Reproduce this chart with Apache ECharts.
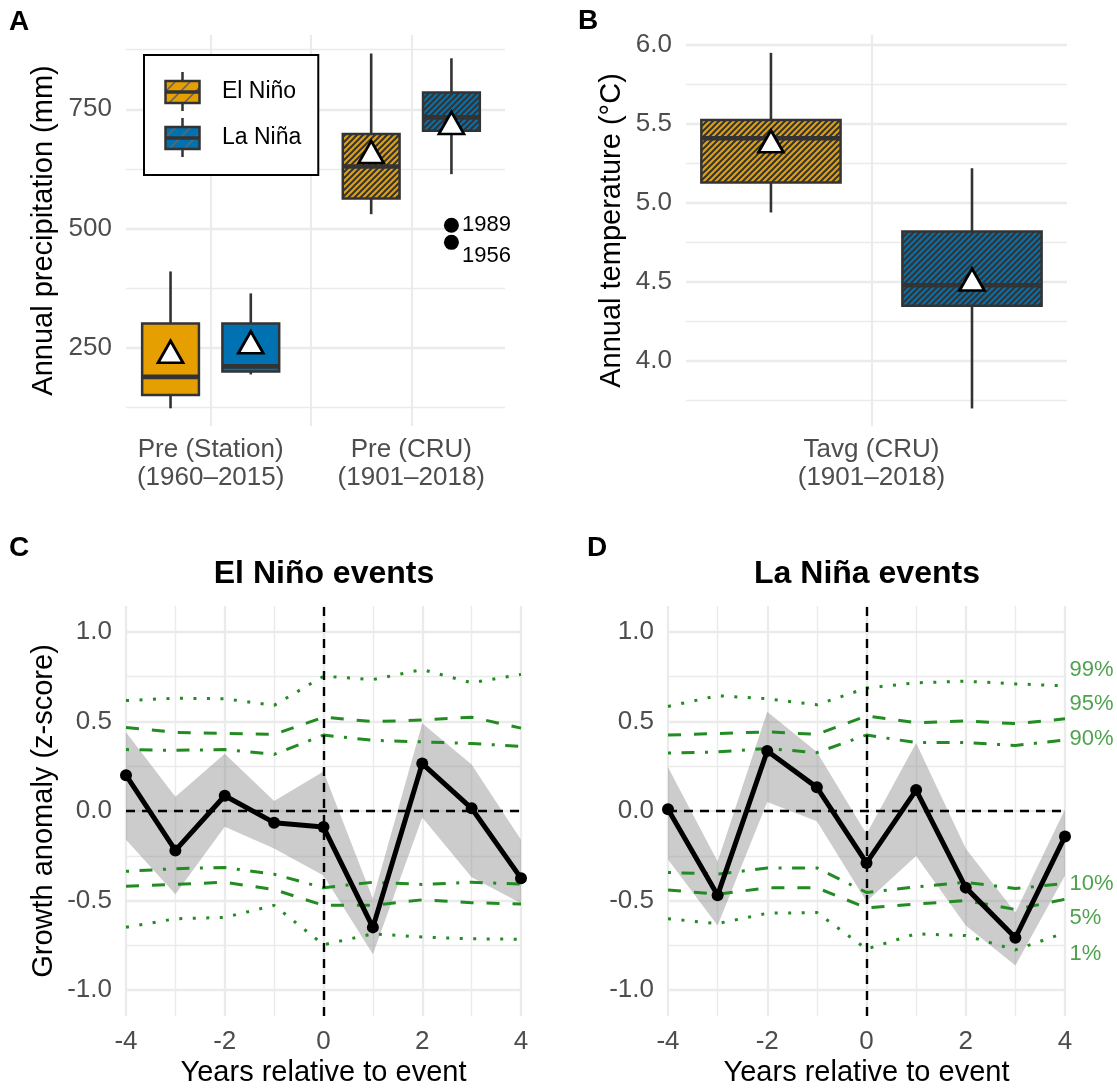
<!DOCTYPE html>
<html>
<head>
<meta charset="utf-8">
<script src="https://cdn.jsdelivr.net/npm/echarts@6/dist/echarts.min.js"></script>
<style>
html, body { margin: 0; padding: 0; background: #fff; }
#main { width: 1117px; height: 1088px; }
</style>
</head>
<body>
<div id="main"></div>
<script>
// ---- panel A: annual precipitation (box stats: low whisker, Q1, median, Q3, high whisker)
var precipCats = ['Pre (Station)\n(1960–2015)', 'Pre (CRU)\n(1901–2018)'];
var precipNinoBox = [[123, 151, 189, 301, 410], [530, 563, 630, 698, 867]];
var precipNinaBox = [[194, 200, 211, 301, 364], [614, 705, 733, 785, 857]];
var precipNinoMean = [233, 652];
var precipNinaMean = [253, 713];
var outlierYears = ['1989', '1956'];
var outlierPrecip = [507, 471];
var precipTicks = [250, 500, 750];
var precipMinor = [125, 375, 625, 875];

// ---- panel B: annual temperature
var tempCats = ['Tavg (CRU)\n(1901–2018)'];
var tempNinoBox = [[4.94, 5.13, 5.41, 5.525, 5.95]];
var tempNinaBox = [[3.70, 4.35, 4.48, 4.82, 5.22]];
var tempNinoMean = [5.365];
var tempNinaMean = [4.49];
var tempTicks = [4.0, 4.5, 5.0, 5.5, 6.0];
var tempMinor = [3.75, 4.25, 4.75, 5.25, 5.75];

// ---- panels C/D: growth anomaly around events
var years = [-4, -3, -2, -1, 0, 1, 2, 3, 4];
var anomTicks = [-1, -0.5, 0, 0.5, 1];
var anomMinor = [-0.75, -0.25, 0.25, 0.75];

var ninoAnom  = [0.20, -0.22, 0.085, -0.065, -0.09, -0.65, 0.265, 0.015, -0.375];
var ninoUpper = [0.44, 0.08, 0.32, 0.056, 0.22, -0.49, 0.49, 0.26, -0.16];
var ninoLower = [-0.16, -0.465, -0.088, -0.21, -0.36, -0.80, -0.037, -0.37, -0.515];
var ninoP99 = [0.617, 0.63, 0.627, 0.59, 0.753, 0.734, 0.79, 0.716, 0.763];
var ninoP95 = [0.467, 0.439, 0.433, 0.428, 0.524, 0.499, 0.508, 0.524, 0.463];
var ninoP90 = [0.343, 0.339, 0.343, 0.316, 0.424, 0.395, 0.386, 0.377, 0.361];
var ninoP10 = [-0.337, -0.322, -0.316, -0.353, -0.429, -0.398, -0.41, -0.398, -0.408];
var ninoP5  = [-0.42, -0.41, -0.398, -0.439, -0.527, -0.527, -0.496, -0.512, -0.52];
var ninoP1  = [-0.649, -0.602, -0.594, -0.527, -0.747, -0.686, -0.704, -0.714, -0.716];

var ninaAnom  = [0.01, -0.47, 0.335, 0.132, -0.29, 0.117, -0.428, -0.708, -0.142];
var ninaUpper = [0.245, -0.282, 0.555, 0.33, -0.129, 0.38, -0.21, -0.567, 0.01];
var ninaLower = [-0.271, -0.639, 0.05, -0.057, -0.506, -0.251, -0.639, -0.863, -0.36];
var ninaP99 = [0.584, 0.644, 0.627, 0.593, 0.687, 0.716, 0.725, 0.71, 0.699];
var ninaP95 = [0.424, 0.433, 0.442, 0.428, 0.531, 0.493, 0.503, 0.488, 0.515];
var ninaP90 = [0.324, 0.33, 0.349, 0.326, 0.424, 0.382, 0.382, 0.366, 0.397];
var ninaP10 = [-0.343, -0.353, -0.318, -0.318, -0.455, -0.424, -0.398, -0.433, -0.405];
var ninaP5  = [-0.441, -0.465, -0.429, -0.429, -0.541, -0.52, -0.5, -0.55, -0.493];
var ninaP1  = [-0.602, -0.629, -0.571, -0.567, -0.771, -0.686, -0.696, -0.776, -0.68];

var pctNames = ['99%', '95%', '90%', '10%', '5%', '1%'];
var pctLabelY = [0.79, 0.60, 0.40, -0.41, -0.60, -0.80];

var ORANGE = '#E69F00', BLUE = '#0072B2', GREEN = '#228B22';
var GRID = '#EBEBEB', TICK = '#4D4D4D', EDGE = '#333333';
var FONT = '"Liberation Sans", Arial, Helvetica, sans-serif';
var TICK_SIZE = 26;

// diagonal hatch tile used as a pattern fill
function hatch(fill, size, lw, stroke) {
    var c = document.createElement('canvas');
    c.width = size; c.height = size;
    var g = c.getContext('2d');
    g.fillStyle = fill;
    g.fillRect(0, 0, size, size);
    g.strokeStyle = stroke;
    g.lineWidth = lw;
    g.beginPath();
    g.moveTo(-1, size + 1); g.lineTo(size + 1, -1);
    g.moveTo(-1, 1); g.lineTo(1, -1);
    g.moveTo(size - 1, size + 1); g.lineTo(size + 1, size - 1);
    g.stroke();
    return {type: 'pattern', image: c, repeat: 'repeat'};
}
var hatchNino = hatch(ORANGE, 6, 2, EDGE);
var hatchNina = hatch(BLUE, 6, 2, EDGE);

function legendIcon(fill) {
    var c = document.createElement('canvas');
    c.width = 53; c.height = 39;
    var g = c.getContext('2d');
    g.strokeStyle = EDGE; g.lineWidth = 2.5;
    g.beginPath(); g.moveTo(18.5, 0); g.lineTo(18.5, 39); g.stroke();
    g.fillStyle = fill;
    g.fillRect(1.5, 9, 34, 22);
    g.save();
    g.beginPath(); g.rect(1.5, 9, 34, 22); g.clip();
    g.strokeStyle = '#666'; g.lineWidth = 1.6;
    for (var k = -40; k < 60; k += 15) {
        g.beginPath(); g.moveTo(k, 31); g.lineTo(k + 22, 9); g.stroke();
    }
    g.restore();
    g.strokeStyle = EDGE; g.lineWidth = 2.5;
    g.strokeRect(1.5, 9, 34, 22);
    g.lineWidth = 3.5;
    g.beginPath(); g.moveTo(1.5, 20); g.lineTo(35.5, 20); g.stroke();
    return 'image://' + c.toDataURL();
}

function boxSeries(name, grid, xs, boxes, width, fills) {
    return {
        type: 'custom', name: name, xAxisIndex: grid, yAxisIndex: grid * 2,
        data: boxes.map(function (b, i) { return [xs[i]].concat(b); }),
        encode: {x: 0, y: [1, 2, 3, 4, 5]},
        silent: true,
        renderItem: function (params, api) {
            var x = api.value(0);
            var lo = api.coord([x, api.value(1)]);
            var q1 = api.coord([x, api.value(2)]);
            var md = api.coord([x, api.value(3)]);
            var q3 = api.coord([x, api.value(4)]);
            var hi = api.coord([x, api.value(5)]);
            var w = api.size([width, 0])[0];
            return {type: 'group', children: [
                {type: 'line', shape: {x1: lo[0], y1: lo[1], x2: hi[0], y2: hi[1]},
                 style: {stroke: EDGE, lineWidth: 2.6}},
                {type: 'rect', shape: {x: q3[0] - w / 2, y: q3[1], width: w, height: q1[1] - q3[1]},
                 style: {fill: fills[params.dataIndex], stroke: EDGE, lineWidth: 2.5}},
                {type: 'line', shape: {x1: md[0] - w / 2, y1: md[1], x2: md[0] + w / 2, y2: md[1]},
                 style: {stroke: EDGE, lineWidth: 4.6}}
            ]};
        }
    };
}

function meanSeries(grid, xs, means) {
    return {
        type: 'scatter', name: 'mean', xAxisIndex: grid, yAxisIndex: grid * 2,
        data: means.map(function (m, i) { return [xs[i], m]; }),
        symbol: 'triangle', symbolSize: [25, 22], symbolOffset: [0, -4],
        itemStyle: {color: '#fff', borderColor: '#000', borderWidth: 2.7, opacity: 1},
        silent: true, z: 5
    };
}

function yAxes(grid, min, max, major, minor, fmt, name, gap) {
    return [{
        type: 'value', gridIndex: grid, min: min, max: max,
        axisLine: {show: false},
        axisTick: {show: false, customValues: major},
        axisLabel: {customValues: major, formatter: fmt, fontSize: TICK_SIZE, color: TICK, margin: 14},
        splitLine: {show: true, lineStyle: {color: GRID, width: 2.3}},
        name: name, nameLocation: 'middle', nameGap: gap,
        nameTextStyle: {fontSize: 29, color: '#000'}
    }, {
        type: 'value', gridIndex: grid, min: min, max: max, position: 'left',
        axisLine: {show: false},
        axisTick: {show: false, customValues: minor},
        axisLabel: {show: false},
        splitLine: {show: true, lineStyle: {color: GRID, width: 1.4}}
    }];
}

function yearAxis(grid) {
    return {
        type: 'value', gridIndex: grid, min: -4, max: 4, interval: 2,
        axisLine: {show: false}, axisTick: {show: false},
        axisLabel: {fontSize: TICK_SIZE, color: TICK, margin: 13},
        splitLine: {show: true, lineStyle: {color: GRID, width: 2.3}},
        minorTick: {show: false, splitNumber: 2},
        minorSplitLine: {show: true, lineStyle: {color: GRID, width: 1.4}},
        name: 'Years relative to event', nameLocation: 'middle', nameGap: 42,
        nameTextStyle: {fontSize: 29, color: '#000'}
    };
}

function ribbonSeries(grid, lower, upper) {
    return {
        type: 'custom', xAxisIndex: grid, yAxisIndex: grid * 2, silent: true,
        data: years.map(function (y, i) { return [y, lower[i], upper[i]]; }),
        renderItem: function (params, api) {
            if (params.dataIndex !== 0) return null;
            var pts = [];
            for (var i = 0; i < years.length; i++) pts.push(api.coord([years[i], upper[i]]));
            for (var j = years.length - 1; j >= 0; j--) pts.push(api.coord([years[j], lower[j]]));
            return {type: 'polygon', shape: {points: pts}, style: {fill: 'rgba(127,127,127,0.4)'}};
        }
    };
}

var DOTTED = [3, 10.5], DASHED = [13, 13], DOTDASH = [3, 10.5, 13, 10.5];

function bandSeries(grid, vals, dash) {
    return {
        type: 'line', xAxisIndex: grid, yAxisIndex: grid * 2, silent: true,
        data: years.map(function (y, i) { return [y, vals[i]]; }),
        symbol: 'none',
        lineStyle: {color: GREEN, width: 3, type: dash}
    };
}

function anomSeries(grid, vals) {
    return {
        type: 'line', xAxisIndex: grid, yAxisIndex: grid * 2, silent: true,
        data: years.map(function (y, i) { return [y, vals[i]]; }),
        symbol: 'circle', symbolSize: 12,
        itemStyle: {color: '#000', opacity: 1},
        lineStyle: {color: '#000', width: 5},
        z: 4,
        markLine: {
            silent: true, symbol: 'none', label: {show: false},
            lineStyle: {color: '#000', width: 2.4, type: [9, 7]},
            data: [{yAxis: 0}, {xAxis: 0}]
        }
    };
}

function fmt1(v) { return (+v).toFixed(1); }

var series = [];
series.push(boxSeries('El Niño', 0, [0.8, 1.8], precipNinoBox, 0.283, [ORANGE, hatchNino]));
series.push(boxSeries('La Niña', 0, [1.2, 2.2], precipNinaBox, 0.283, [BLUE, hatchNina]));
series.push(meanSeries(0, [0.8, 1.8], precipNinoMean));
series.push(meanSeries(0, [1.2, 2.2], precipNinaMean));
var outlierOffsets = [[0, 0], [0, 14]];
series.push({
    type: 'scatter', name: 'outliers', xAxisIndex: 0, yAxisIndex: 0, silent: true,
    data: outlierPrecip.map(function (v, i) {
        return {value: [2.2, v], name: outlierYears[i], label: {offset: outlierOffsets[i]}};
    }),
    symbolSize: 15, itemStyle: {color: '#000', opacity: 1},
    label: {show: true, position: 'right', distance: 3, formatter: '{b}', fontSize: 22, color: '#000'}
});
series.push(boxSeries('El Niño', 1, [0.8], tempNinoBox, 0.277, [hatchNino]));
series.push(boxSeries('La Niña', 1, [1.2], tempNinaBox, 0.277, [hatchNina]));
series.push(meanSeries(1, [0.8], tempNinoMean));
series.push(meanSeries(1, [1.2], tempNinaMean));

[[2, ninoLower, ninoUpper, [ninoP99, ninoP95, ninoP90, ninoP10, ninoP5, ninoP1], ninoAnom],
 [3, ninaLower, ninaUpper, [ninaP99, ninaP95, ninaP90, ninaP10, ninaP5, ninaP1], ninaAnom]]
.forEach(function (p) {
    series.push(ribbonSeries(p[0], p[1], p[2]));
    var dashes = [DOTTED, DASHED, DOTDASH, DOTDASH, DASHED, DOTTED];
    p[3].forEach(function (vals, k) { series.push(bandSeries(p[0], vals, dashes[k])); });
    series.push(anomSeries(p[0], p[4]));
});

series.push({
    type: 'scatter', xAxisIndex: 3, yAxisIndex: 6, silent: true, clip: false,
    data: pctLabelY.map(function (v, i) { return {value: [4, v], name: pctNames[i]}; }),
    symbolSize: 1, itemStyle: {color: 'rgba(0,0,0,0)'},
    label: {show: true, position: 'right', distance: 4, formatter: '{b}', fontSize: 22, color: GREEN}
});

var option = {
    animation: false,
    backgroundColor: '#fff',
    textStyle: {fontFamily: FONT},
    grid: [
        {left: 126, top: 35, width: 379, height: 391},
        {left: 686, top: 35, width: 381, height: 391},
        {left: 126, top: 606, width: 395, height: 411},
        {left: 668, top: 606, width: 397, height: 411}
    ],
    xAxis: [
        {
            type: 'value', gridIndex: 0, min: 0.578, max: 2.467,
            axisLine: {show: false},
            axisTick: {show: false, customValues: [1, 1.5, 2]},
            axisLabel: {customValues: [1, 2], fontSize: TICK_SIZE, color: TICK, lineHeight: 28, margin: 10,
                formatter: function (v) { return precipCats[Math.round(v) - 1]; }},
            splitLine: {show: true, lineStyle: {color: GRID, width: 2.1}}
        },
        {
            type: 'value', gridIndex: 1, min: 0.631, max: 1.389,
            axisLine: {show: false},
            axisTick: {show: false, customValues: [1]},
            axisLabel: {customValues: [1], fontSize: TICK_SIZE, color: TICK, lineHeight: 28, margin: 10,
                formatter: function () { return tempCats[0]; }},
            splitLine: {show: true, lineStyle: {color: GRID, width: 2.1}}
        },
        yearAxis(2),
        yearAxis(3)
    ],
    yAxis: [].concat(
        yAxes(0, 85.9, 905.8, precipTicks, precipMinor, null, 'Annual precipitation (mm)', 68),
        yAxes(1, 3.589, 6.063, tempTicks, tempMinor, fmt1, 'Annual temperature (°C)', 60),
        yAxes(2, -1.145, 1.145, anomTicks, anomMinor, fmt1, 'Growth anomaly (z-score)', 68),
        yAxes(3, -1.145, 1.145, anomTicks, anomMinor, fmt1, '', 60)
    ),
    legend: {
        left: 144, top: 55, orient: 'vertical',
        itemWidth: 53, itemHeight: 39, itemGap: 7,
        padding: [17, 17, 18, 20],
        borderColor: '#000', borderWidth: 2, backgroundColor: '#fff',
        selectedMode: false,
        textStyle: {fontSize: 23, color: '#000'},
        data: [{name: 'El Niño', icon: legendIcon(ORANGE)}, {name: 'La Niña', icon: legendIcon(BLUE)}]
    },
    graphic: [
        {type: 'text', x: 9, y: 22, style: {text: 'A', font: 'bold 28px ' + FONT, fill: '#000', textVerticalAlign: 'middle'}},
        {type: 'text', x: 578, y: 21, style: {text: 'B', font: 'bold 28px ' + FONT, fill: '#000', textVerticalAlign: 'middle'}},
        {type: 'text', x: 9, y: 548, style: {text: 'C', font: 'bold 28px ' + FONT, fill: '#000', textVerticalAlign: 'middle'}},
        {type: 'text', x: 587, y: 548, style: {text: 'D', font: 'bold 28px ' + FONT, fill: '#000', textVerticalAlign: 'middle'}},
        {type: 'text', x: 324, y: 574, style: {text: 'El Niño events', font: 'bold 32px ' + FONT, fill: '#000', textAlign: 'center', textVerticalAlign: 'middle'}},
        {type: 'text', x: 867, y: 574, style: {text: 'La Niña events', font: 'bold 32px ' + FONT, fill: '#000', textAlign: 'center', textVerticalAlign: 'middle'}}
    ],
    series: series
};

var chart = echarts.init(document.getElementById('main'), null, {renderer: 'canvas'});
chart.setOption(option);
</script>
</body>
</html>
